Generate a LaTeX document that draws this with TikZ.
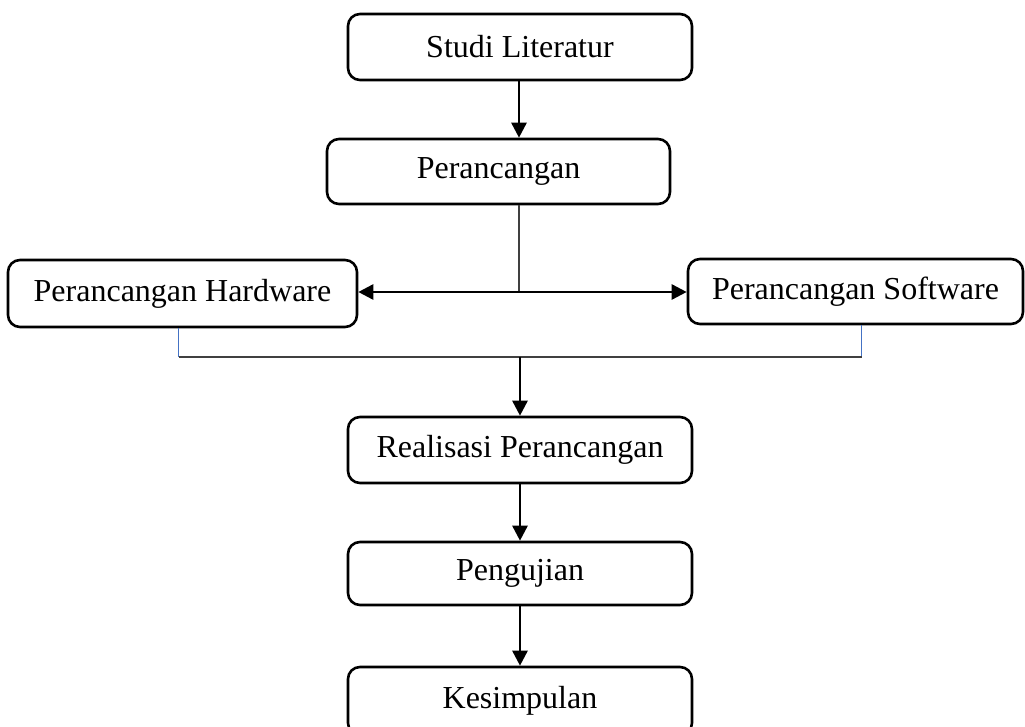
\documentclass[tikz,border=0pt]{standalone}
\usepackage{fontspec}
\setmainfont{Liberation Serif}
\usetikzlibrary{arrows.meta}
\definecolor{linkblue}{RGB}{68,114,196}
\begin{document}
\begin{tikzpicture}
[x=0.5pt,y=-0.5pt,
  boxdecorate/.style={shape=rectangle,rounded corners=6pt,draw,line width=1.3pt,
    inner sep=0pt,font=\fontsize{16}{19}\selectfont},%
  arrowdecorate/.style={-{Triangle[width=7.5pt,length=7.5pt]},line width=1.3pt},
  thinline/.style={line width=0.7pt,black!75},
  blueline/.style={line width=0.7pt,linkblue}]
\clip (0,0) rectangle (1025,727);
%% boxes
\foreach \nodename/\x/\y/\w/\h/\nodetext in {studi/520/47/344/66/Studi Literatur,
  peranc/498.5/171.5/343/65/Perancangan, hw/182.5/293.5/349/67/Perancangan Hardware,
  sw/855.5/291.5/335/65/Perancangan Software, real/520/450/344/66/Realisasi Perancangan,
  uji/520/573.5/344/63/Pengujian, simp/520/701/344/68/Kesimpulan}
{
  \node (\nodename) at (\x,\y) [boxdecorate,minimum width=\w*0.5pt,
    minimum height=\h*0.5pt] {\nodetext};
}
\coordinate (split) at (519,292);
\coordinate (merge) at (520,357);
%% connectors
\draw[arrowdecorate] (studi.south -| split) -- (peranc.north -| split);
\draw[thinline] (peranc.south -| split) -- (split);
\draw[arrowdecorate] (split) -- (split -| hw.east);
\draw[arrowdecorate] (split) -- (split -| sw.west);
\draw[blueline] ([xshift=-2pt]hw.south) -- ([xshift=-2pt]hw.south |- merge);
\draw[blueline] ([xshift=3pt]sw.south) -- ([xshift=3pt]sw.south |- merge);
\draw[thinline] ([xshift=-2pt]hw.south |- merge) -- ([xshift=3pt]sw.south |- merge);
\path
\foreach \startnode/\endnode in {merge/real, real/uji, uji/simp} {
  (\startnode) edge[arrowdecorate] (\startnode |- \endnode.north)
};
\end{tikzpicture}
\end{document}
